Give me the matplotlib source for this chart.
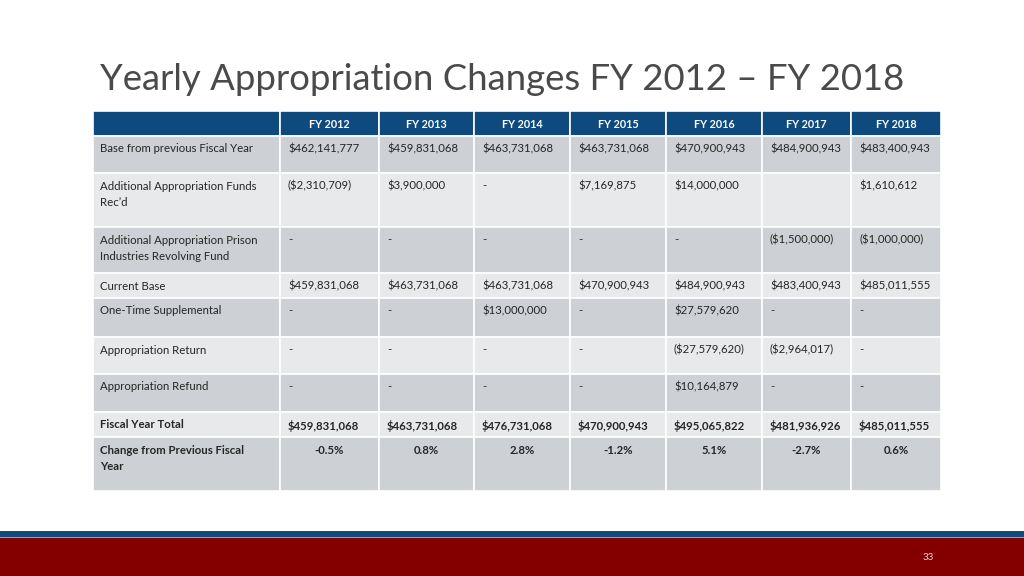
import matplotlib
matplotlib.use("Agg")
import matplotlib.pyplot as plt
from matplotlib.patches import Rectangle

plt.rcParams['font.family'] = ['Lato', 'DejaVu Sans']

TITLE = "Yearly Appropriation Changes FY 2012 \u2013 FY 2018"
years = ["FY 2012", "FY 2013", "FY 2014", "FY 2015", "FY 2016", "FY 2017", "FY 2018"]
row_labels = [
    "Base from previous Fiscal Year",
    "Additional Appropriation Funds\nRec\u2019d",
    "Additional Appropriation Prison\nIndustries Revolving Fund",
    "Current Base",
    "One-Time Supplemental",
    "Appropriation Return",
    "Appropriation Refund",
    "Fiscal Year Total",
    "Change from Previous Fiscal\nYear",
]
base_prev = ["$462,141,777", "$459,831,068", "$463,731,068", "$463,731,068",
             "$470,900,943", "$484,900,943", "$483,400,943"]
add_funds = ["($2,310,709)", "$3,900,000", "-", "$7,169,875", "$14,000,000",
             "", "$1,610,612"]
add_prison = ["-", "-", "-", "-", "-", "($1,500,000)", "($1,000,000)"]
current_base = ["$459,831,068", "$463,731,068", "$463,731,068", "$470,900,943",
                "$484,900,943", "$483,400,943", "$485,011,555"]
supplemental = ["-", "-", "$13,000,000", "-", "$27,579,620", "-", "-"]
approp_return = ["-", "-", "-", "-", "($27,579,620)", "($2,964,017)", "-"]
approp_refund = ["-", "-", "-", "-", "$10,164,879", "-", "-"]
fy_total = ["$459,831,068", "$463,731,068", "$476,731,068", "$470,900,943",
            "$495,065,822", "$481,936,926", "$485,011,555"]
pct_change = ["-0.5%", "0.8%", "2.8%", "-1.2%", "5.1%", "-2.7%", "0.6%"]

rows = [base_prev, add_funds, add_prison, current_base, supplemental,
        approp_return, approp_refund, fy_total, pct_change]

# layout (pixels)
col_edges = [93, 280, 379, 474, 570, 666, 762, 851, 941]
row_edges = [111, 136, 173, 227, 273, 298, 337, 374, 412, 437, 491]

HEADER = "#0e4a7e"
DARK = "#cdd1d5"
LIGHT = "#e8e9eb"
TXT = "#262626"
FS = 8.2

fig = plt.figure(figsize=(10.24, 5.76), dpi=100)
ax = fig.add_axes([0, 0, 1, 1])
ax.set_xlim(0, 1024)
ax.set_ylim(576, 0)
ax.axis("off")

ax.text(100, 79, TITLE, fontsize=26.3, color="#4a4a4a", va="center",
        ha="left", fontweight="normal")

# header
for c in range(len(col_edges) - 1):
    x0, x1 = col_edges[c], col_edges[c + 1]
    ax.add_patch(Rectangle((x0, row_edges[0]), x1 - x0,
                           row_edges[1] - row_edges[0], facecolor=HEADER,
                           edgecolor="white", linewidth=1.2))
    if c > 0:
        ax.text((x0 + x1) / 2, (row_edges[0] + row_edges[1]) / 2 + 0.5,
                years[c - 1], color="white", fontsize=7.8, fontweight="bold",
                ha="center", va="center")

for r, vals in enumerate(rows):
    y0, y1 = row_edges[r + 1], row_edges[r + 2]
    fc = DARK if r % 2 == 0 else LIGHT
    bold = r >= 7
    for c in range(len(col_edges) - 1):
        x0, x1 = col_edges[c], col_edges[c + 1]
        ax.add_patch(Rectangle((x0, y0), x1 - x0, y1 - y0, facecolor=fc,
                               edgecolor="white", linewidth=1.2))
    ax.text(100, y0 + 7.5, row_labels[r], color=TXT, fontsize=FS,
            ha="left", va="top", linespacing=1.65,
            fontweight="bold" if bold else "normal")
    for c, v in enumerate(vals):
        x0, x1 = col_edges[c + 1], col_edges[c + 2]
        if r == 8:
            ax.text((x0 + x1) / 2, y0 + 7.5, v, color=TXT, fontsize=FS,
                    ha="center", va="top", fontweight="bold")
        else:
            ax.text(x0 + 8, y0 + 7.5, v, color=TXT, fontsize=FS,
                    ha="left", va="top",
                    fontweight="bold" if bold else "normal")

# footer bands
ax.add_patch(Rectangle((0, 531), 1024, 6, facecolor="#124a7c", edgecolor="none"))
ax.add_patch(Rectangle((0, 537), 1024, 1.2, facecolor="#9aa4b0", edgecolor="none"))
ax.add_patch(Rectangle((0, 538), 1024, 38, facecolor="#840000", edgecolor="none"))
ax.text(928, 558, "33", color="#f0d0d0", fontsize=7, ha="center", va="center")

fig.savefig("out.png", dpi=100)
